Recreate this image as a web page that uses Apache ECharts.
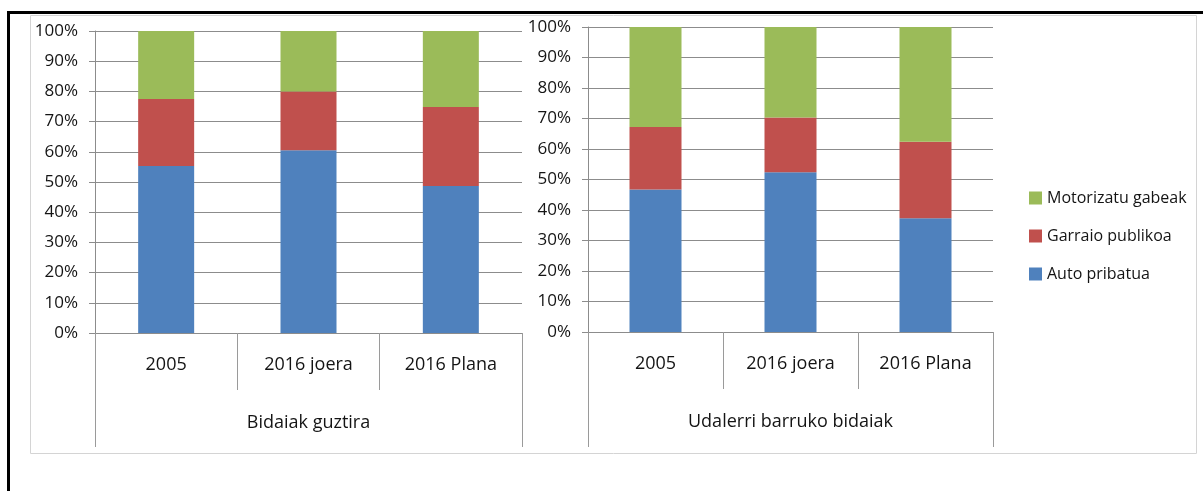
<!DOCTYPE html>
<html>
<head>
<meta charset="utf-8">
<script src="https://cdn.jsdelivr.net/npm/echarts@6/dist/echarts.min.js"></script>
<style>
  html, body { margin: 0; padding: 0; background: #fff; overflow: hidden; }
  #border { position: absolute; left: 7px; top: 11px; width: 1400px; height: 800px; border: 3px solid #000; }
  #chart { position: absolute; left: 0; top: 0; width: 1203px; height: 491px; }
</style>
</head>
<body>
<div id="border"></div>
<div id="chart"></div>
<script>
// ---- data ----
const categories = ['2005', '2016 joera', '2016 Plana'];
const groupLeft = 'Bidaiak guztira';
const groupRight = 'Udalerri barruko bidaiak';
const seriesNames = ['Motorizatu gabeak', 'Garraio publikoa', 'Auto pribatua'];

// Bidaiak guztira (percent)
const leftAuto = [55.3, 60.5, 48.7];
const leftGarraio = [22.2, 19.5, 26.1];
const leftMotor = [22.5, 20.0, 25.2];

// Udalerri barruko bidaiak (percent)
const rightAuto = [46.7, 52.4, 37.3];
const rightGarraio = [20.5, 17.9, 25.1];
const rightMotor = [32.8, 29.7, 37.6];

const colors = { auto: '#4F81BD', garraio: '#C0504D', motor: '#9BBB59' };
const gridColor = '#8c8c8c';
const txt = '#141414';
const font = 'Open Sans';

function yAxis(gi) {
  return {
    gridIndex: gi, type: 'value', min: 0, max: 100, interval: 10,
    axisLine: { show: true, lineStyle: { color: gridColor } },
    axisTick: { show: true, length: 6, lineStyle: { color: gridColor } },
    splitLine: { show: true, lineStyle: { color: gridColor, width: 1 } },
    axisLabel: { formatter: '{value}%', margin: 17, fontSize: 17, fontFamily: font, color: txt }
  };
}
function catAxis(gi) {
  return {
    gridIndex: gi, type: 'category', position: 'bottom', data: categories,
    axisLine: { show: true, lineStyle: { color: gridColor } },
    axisTick: { show: true, length: 57, lineStyle: { color: '#9a9a9a' } },
    axisLabel: { margin: 21, fontSize: 18, lineHeight: 22, fontFamily: font, color: txt }
  };
}
function groupAxis(gi, name, len) {
  return {
    gridIndex: gi, type: 'category', position: 'bottom', offset: 0, data: [name],
    axisLine: { show: false },
    axisTick: { show: true, length: len, lineStyle: { color: '#9a9a9a' } },
    axisLabel: { margin: 79, fontSize: 18, lineHeight: 22, fontFamily: font, color: txt },
    splitLine: { show: false }
  };
}
function bar(name, data, xi, yi, color, bw) {
  return {
    name: name, type: 'bar', stack: 's' + xi, xAxisIndex: xi, yAxisIndex: yi,
    data: data, barWidth: bw, itemStyle: { color: color }, animation: false
  };
}

const chart = echarts.init(document.getElementById('chart'));
chart.setOption({
  animation: false,
  color: [colors.motor, colors.garraio, colors.auto],
  grid: [
    { left: 95, top: 31, width: 427, height: 302, containLabel: false },
    { left: 588, top: 27, width: 405, height: 305, containLabel: false }
  ],
  xAxis: [
    catAxis(0), groupAxis(0, groupLeft, 114),
    catAxis(1), groupAxis(1, groupRight, 115)
  ],
  yAxis: [yAxis(0), yAxis(1)],
  legend: {
    orient: 'vertical', left: 1024, top: 183,
    data: seriesNames, itemWidth: 13, itemHeight: 13, itemGap: 18,
    icon: 'rect',
    textStyle: { fontSize: 16, lineHeight: 20, fontFamily: font, color: txt }
  },
  graphic: [
    { type: 'rect', shape: { x: 30.5, y: 15.5, width: 1166, height: 438 },
      style: { fill: 'none', stroke: '#d4d4d4', lineWidth: 1 }, z: -1 }
  ],
  series: [
    bar(seriesNames[2], leftAuto, 0, 0, colors.auto, 56),
    bar(seriesNames[1], leftGarraio, 0, 0, colors.garraio, 56),
    bar(seriesNames[0], leftMotor, 0, 0, colors.motor, 56),
    bar(seriesNames[2], rightAuto, 2, 1, colors.auto, 52),
    bar(seriesNames[1], rightGarraio, 2, 1, colors.garraio, 52),
    bar(seriesNames[0], rightMotor, 2, 1, colors.motor, 52)
  ]
});
</script>
</body>
</html>
